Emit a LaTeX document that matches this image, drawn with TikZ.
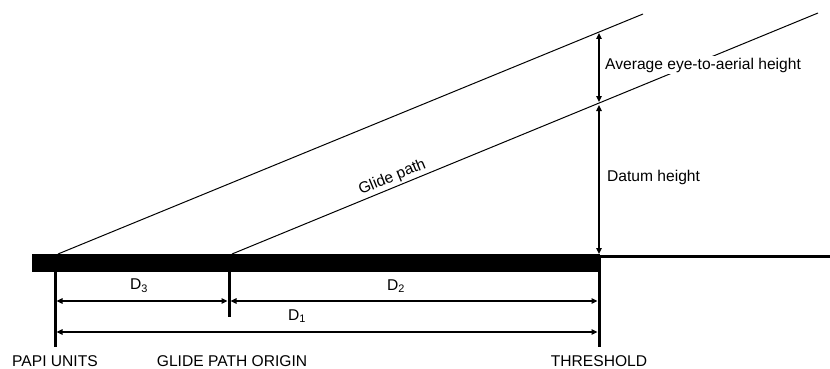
\documentclass[tikz,border=0pt]{standalone}
\usepackage{fontspec}
\setmainfont{Liberation Sans}
\usetikzlibrary{arrows.meta}
\begin{document}
\begin{tikzpicture}[x=1pt,y=-1pt,
  font=\fontsize{15.6}{18}\selectfont,
  tip/.tip={Triangle[length=6pt,width=5.5pt]},
  dim/.style={tip-tip, line width=1.8pt},
  slant/.style={line width=1pt},
  tickline/.style={line width=3pt},
  lbl/.style={inner sep=1pt}]
\useasboundingbox (0,0) rectangle (830,369);
% runway bar
\node[fill=black, draw=none, minimum width=568pt, minimum height=18pt, inner sep=0pt, anchor=north west] (runway) at (32,254) {};
% ground line beyond threshold
\coordinate (g1) at (600,256);
\coordinate (g2) at (830,256);
\draw[tickline] (g1) -- (g2);
% sloping lines
\coordinate (uA) at (58,254);
\coordinate (uB) at (643,14);
\coordinate (lA) at (232,254);
\coordinate (lB) at (818,13);
\draw[slant] (uA) -- (uB);
\draw[slant] (lA) -- (lB) node[pos=0.28, sloped, anchor=south, inner sep=2pt] (gp) {Glide path};
% tick lines
\coordinate (p1) at (55,270); \coordinate (p2) at (55,347);
\coordinate (o1) at (229,270); \coordinate (o2) at (229,317);
\coordinate (t1) at (599,255); \coordinate (t2) at (599,347);
\draw[tickline] (p1) -- (p2);
\draw[tickline] (o1) -- (o2);
\draw[tickline] (t1) -- (t2);
% height arrows
\coordinate (h1) at (599,33);
\coordinate (h2) at (599,102);
\coordinate (h3) at (599,105);
\coordinate (h4) at (599,254);
\draw[dim] (h1) -- (h2);
\draw[dim] (h3) -- (h4);
\node[anchor=west, fill=white, inner sep=2pt] (avg) at (603,65) {Average eye-to-aerial height};
\node[anchor=west, lbl] (datum) at (606,177) {Datum height};
% distance arrows
\coordinate (d3a) at (56.5,301); \coordinate (d3b) at (227.5,301);
\coordinate (d2a) at (230.5,301); \coordinate (d2b) at (597.5,301);
\coordinate (d1a) at (56.5,332); \coordinate (d1b) at (597.5,332);
\draw[dim] (d3a) -- (d3b);
\draw[dim] (d2a) -- (d2b);
\draw[dim] (d1a) -- (d1b);
\node[lbl] (D3) at (139,286) {D\textsubscript{3}};
\node[lbl] (D2) at (396,286) {D\textsubscript{2}};
\node[lbl] (D1) at (297,316) {D\textsubscript{1}};
% bottom labels
\node[lbl] (papi) at (55,361) {PAPI UNITS};
\node[lbl] (origin) at (232,361) {GLIDE PATH ORIGIN};
\node[lbl] (thr) at (599,361) {THRESHOLD};
\end{tikzpicture}
\end{document}
